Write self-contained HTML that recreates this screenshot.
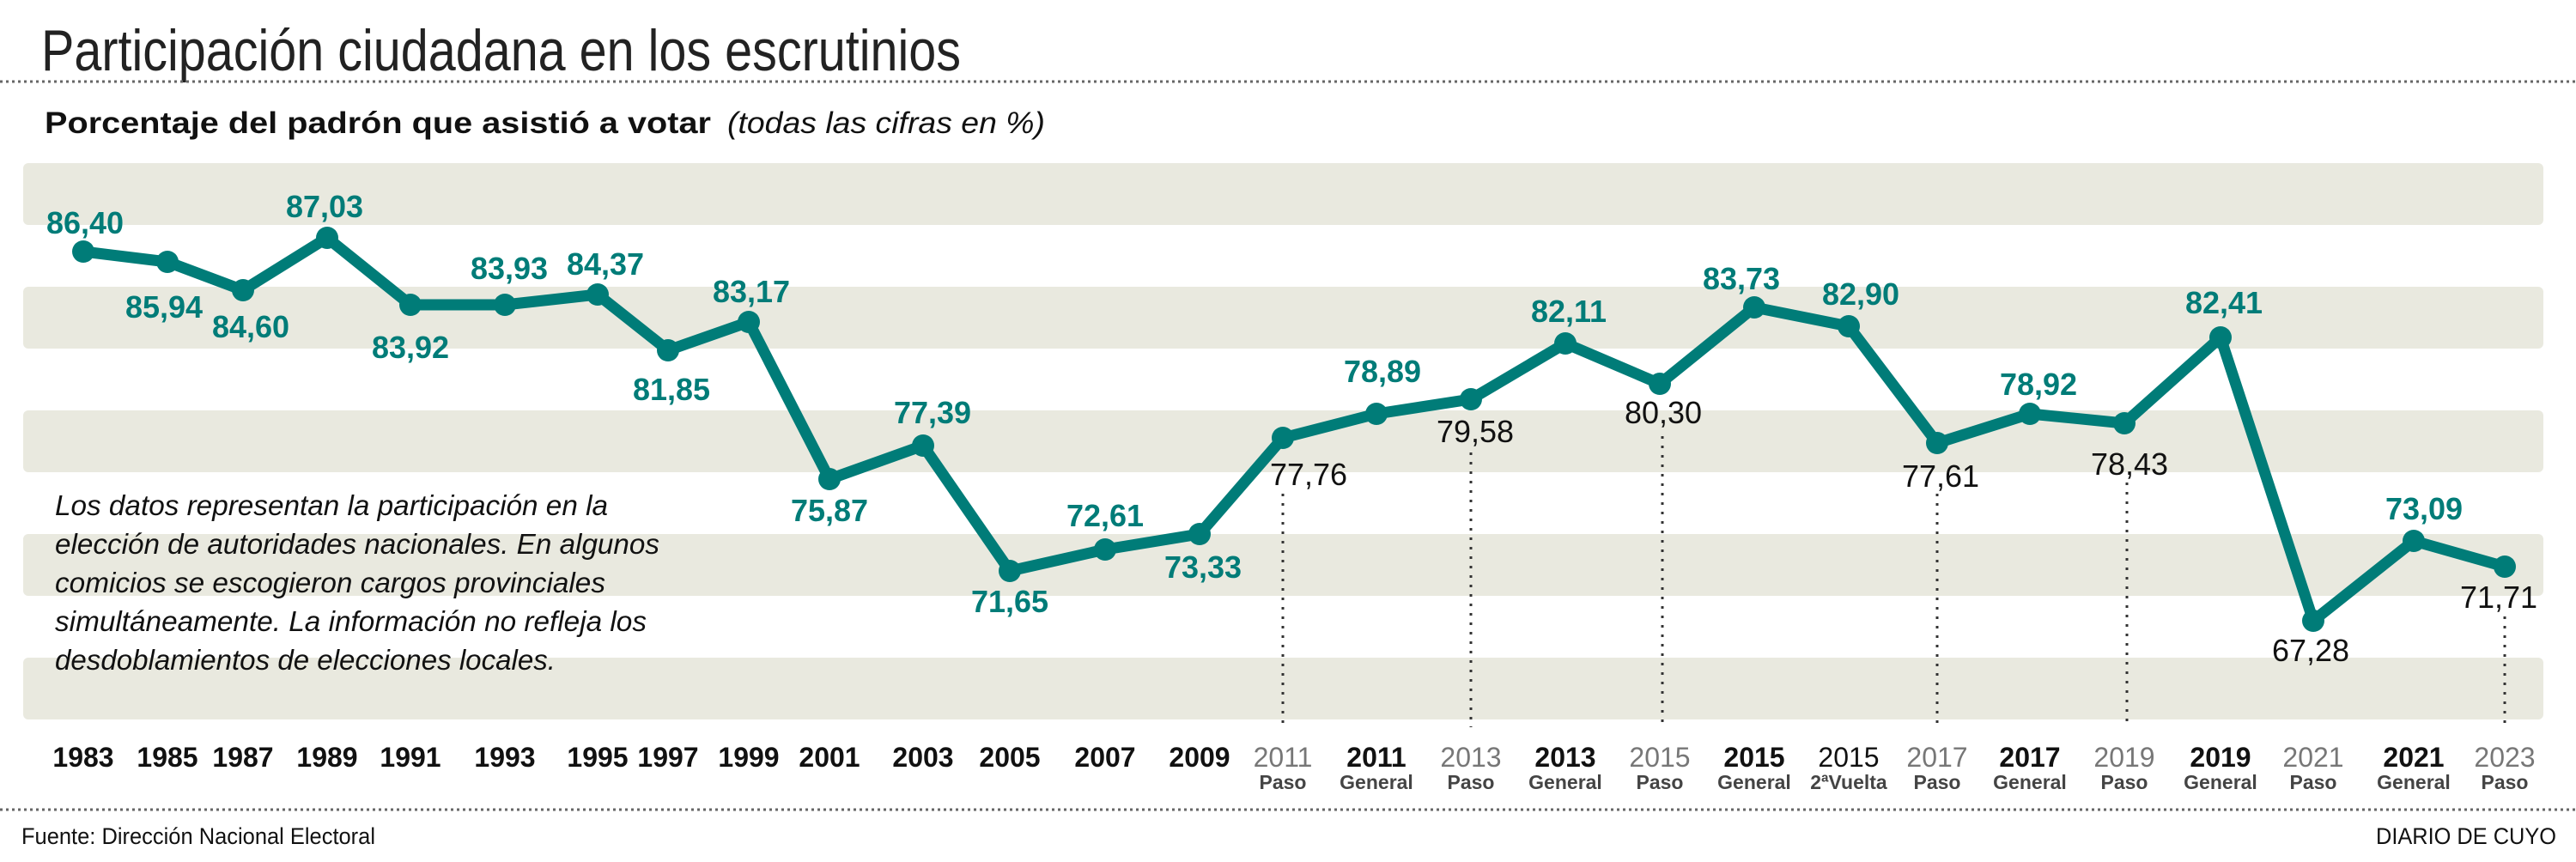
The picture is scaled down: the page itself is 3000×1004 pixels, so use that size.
<!DOCTYPE html>
<html><head><meta charset="utf-8"><style>
html,body{margin:0;padding:0;background:#fff}
svg{display:block}
</style></head><body>
<svg width="3000" height="1004" viewBox="0 0 3000 1004" xmlns="http://www.w3.org/2000/svg" font-family="Liberation Sans, Arial, sans-serif">
<rect width="3000" height="1004" fill="#fff"/>
<text x="48" y="82" font-size="68" fill="#222" textLength="1071" lengthAdjust="spacingAndGlyphs">Participación ciudadana en los escrutinios</text>
<line x1="0" y1="95" x2="3000" y2="95" stroke="#666" stroke-width="3" stroke-dasharray="3,4"/>
<text x="52" y="155" font-size="35" font-weight="bold" fill="#111" textLength="776" lengthAdjust="spacingAndGlyphs">Porcentaje del padrón que asistió a votar</text>
<text x="847" y="155" font-size="35" font-style="italic" fill="#111" textLength="370" lengthAdjust="spacingAndGlyphs">(todas las cifras en %)</text>
<g fill="#e9e9df">
<rect x="27" y="190" width="2935" height="72" rx="6"/>
<rect x="27" y="334" width="2935" height="72" rx="6"/>
<rect x="27" y="478" width="2935" height="72" rx="6"/>
<rect x="27" y="622" width="2935" height="72" rx="6"/>
<rect x="27" y="766" width="2935" height="72" rx="6"/>
</g>
<g stroke="#333" stroke-width="3" stroke-dasharray="3,8">
<line x1="1494" y1="575" x2="1494" y2="847"/>
<line x1="1713" y1="527" x2="1713" y2="847"/>
<line x1="1936" y1="508" x2="1936" y2="847"/>
<line x1="2256" y1="575" x2="2256" y2="847"/>
<line x1="2477" y1="562" x2="2477" y2="847"/>
<line x1="2917" y1="718" x2="2917" y2="847"/>
</g>
<g font-style="italic" font-size="33" fill="#111">
<text x="64" y="600" textLength="644" lengthAdjust="spacingAndGlyphs">Los datos representan la participación en la</text>
<text x="64" y="645" textLength="704" lengthAdjust="spacingAndGlyphs">elección de autoridades nacionales. En algunos</text>
<text x="64" y="690" textLength="641" lengthAdjust="spacingAndGlyphs">comicios se escogieron cargos provinciales</text>
<text x="64" y="735" textLength="689" lengthAdjust="spacingAndGlyphs">simultáneamente. La información no refleja los</text>
<text x="64" y="780" textLength="583" lengthAdjust="spacingAndGlyphs">desdoblamientos de elecciones locales.</text>
</g>
<polyline fill="none" stroke="#007c78" stroke-width="13" stroke-linejoin="round" points="97,293 195,305 283,338 381,277 478,355 588,355 696,343 778,408 872,375 966,558 1075,519 1176,665 1287,640 1397,622 1494,510 1603,482 1713,465 1823,400 1933,447 2043,358 2153,380 2256,516 2364,482 2474,493 2586,393 2694,723 2811,630 2917,660"/>
<g fill="#007c78">
<circle cx="97" cy="293" r="13"/><circle cx="195" cy="305" r="13"/><circle cx="283" cy="338" r="13"/><circle cx="381" cy="277" r="13"/><circle cx="478" cy="355" r="13"/><circle cx="588" cy="355" r="13"/><circle cx="696" cy="343" r="13"/><circle cx="778" cy="408" r="13"/><circle cx="872" cy="375" r="13"/><circle cx="966" cy="558" r="13"/><circle cx="1075" cy="519" r="13"/><circle cx="1176" cy="665" r="13"/><circle cx="1287" cy="640" r="13"/><circle cx="1397" cy="622" r="13"/><circle cx="1494" cy="510" r="13"/><circle cx="1603" cy="482" r="13"/><circle cx="1713" cy="465" r="13"/><circle cx="1823" cy="400" r="13"/><circle cx="1933" cy="447" r="13"/><circle cx="2043" cy="358" r="13"/><circle cx="2153" cy="380" r="13"/><circle cx="2256" cy="516" r="13"/><circle cx="2364" cy="482" r="13"/><circle cx="2474" cy="493" r="13"/><circle cx="2586" cy="393" r="13"/><circle cx="2694" cy="723" r="13"/><circle cx="2811" cy="630" r="13"/><circle cx="2917" cy="660" r="13"/>
</g>
<g font-size="36" font-weight="bold" fill="#007c78" text-anchor="middle">
<text x="99" y="272">86,40</text>
<text x="191" y="370">85,94</text>
<text x="292" y="393">84,60</text>
<text x="378" y="253">87,03</text>
<text x="478" y="417">83,92</text>
<text x="593" y="325">83,93</text>
<text x="705" y="320">84,37</text>
<text x="782" y="466">81,85</text>
<text x="875" y="352">83,17</text>
<text x="966" y="607">75,87</text>
<text x="1086" y="493">77,39</text>
<text x="1176" y="713">71,65</text>
<text x="1287" y="613">72,61</text>
<text x="1401" y="673">73,33</text>
<text x="1610" y="445">78,89</text>
<text x="1827" y="375">82,11</text>
<text x="2028" y="337">83,73</text>
<text x="2167" y="355">82,90</text>
<text x="2374" y="460">78,92</text>
<text x="2590" y="365">82,41</text>
<text x="2823" y="605">73,09</text>
</g>
<g font-size="36" fill="#111" text-anchor="middle">
<text x="1524" y="565">77,76</text>
<text x="1718" y="515">79,58</text>
<text x="1937" y="493">80,30</text>
<text x="2260" y="567">77,61</text>
<text x="2480" y="553">78,43</text>
<text x="2691" y="770">67,28</text>
<text x="2910" y="708">71,71</text>
</g>
<g font-size="32" font-weight="bold" fill="#111" text-anchor="middle">
<text x="97" y="893">1983</text><text x="195" y="893">1985</text><text x="283" y="893">1987</text><text x="381" y="893">1989</text><text x="478" y="893">1991</text><text x="588" y="893">1993</text><text x="696" y="893">1995</text><text x="778" y="893">1997</text><text x="872" y="893">1999</text><text x="966" y="893">2001</text><text x="1075" y="893">2003</text><text x="1176" y="893">2005</text><text x="1287" y="893">2007</text><text x="1397" y="893">2009</text>
<text x="1603" y="893">2011</text><text x="1823" y="893">2013</text><text x="2043" y="893">2015</text><text x="2364" y="893">2017</text><text x="2586" y="893">2019</text><text x="2811" y="893">2021</text>
</g>
<g font-size="32" fill="#777" text-anchor="middle">
<text x="1494" y="893">2011</text><text x="1713" y="893">2013</text><text x="1933" y="893">2015</text><text x="2256" y="893">2017</text><text x="2474" y="893">2019</text><text x="2694" y="893">2021</text><text x="2917" y="893">2023</text>
</g>
<text x="2153" y="893" font-size="32" fill="#111" text-anchor="middle">2015</text>
<g font-size="23" font-weight="bold" fill="#444" text-anchor="middle">
<text x="1494" y="919">Paso</text><text x="1603" y="919">General</text><text x="1713" y="919">Paso</text><text x="1823" y="919">General</text><text x="1933" y="919">Paso</text><text x="2043" y="919">General</text><text x="2153" y="919">2ªVuelta</text><text x="2256" y="919">Paso</text><text x="2364" y="919">General</text><text x="2474" y="919">Paso</text><text x="2586" y="919">General</text><text x="2694" y="919">Paso</text><text x="2811" y="919">General</text><text x="2917" y="919">Paso</text>
</g>
<line x1="0" y1="943" x2="3000" y2="943" stroke="#666" stroke-width="3" stroke-dasharray="3,4"/>
<text x="25" y="983" font-size="27" fill="#111" textLength="412" lengthAdjust="spacingAndGlyphs">Fuente: Dirección Nacional Electoral</text>
<text x="2977" y="983" font-size="27" fill="#111" text-anchor="end" textLength="210" lengthAdjust="spacingAndGlyphs">DIARIO DE CUYO</text>
</svg>
</body></html>
